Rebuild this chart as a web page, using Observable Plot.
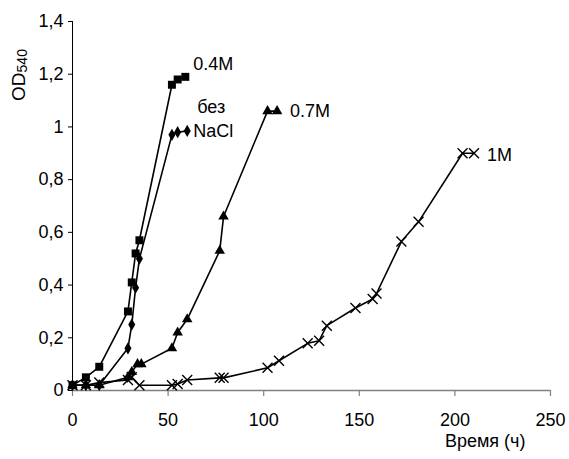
<!DOCTYPE html>
<html>
<head>
<meta charset="utf-8">
<script src="https://cdn.jsdelivr.net/npm/d3@7"></script>
<script src="https://cdn.jsdelivr.net/npm/@observablehq/plot@0.6"></script>
<style>
  body { margin: 0; background: #fff; }
  #chart svg { display: block; }
</style>
</head>
<body>
<div id="chart"></div>
<script>
// ---- data ----
const seriesNames = ["0.4M", "без NaCl", "0.7M", "1M"];

const time04 = [0, 7, 14, 29, 31, 33, 35, 52, 55, 59];
const od04   = [0.02, 0.05, 0.09, 0.30, 0.41, 0.52, 0.57, 1.16, 1.18, 1.19];

const timeNo = [0, 7, 14, 29, 31, 33, 35, 52, 55, 60];
const odNo   = [0.02, 0.02, 0.02, 0.16, 0.25, 0.39, 0.50, 0.97, 0.98, 0.985];

const time07 = [0, 7, 14, 29, 31, 34, 36, 52, 55, 60, 77, 79, 102, 107];
const od07   = [0.02, 0.02, 0.02, 0.05, 0.07, 0.10, 0.10, 0.16, 0.22, 0.27, 0.53, 0.66, 1.06, 1.06];

const time1 = [0, 7, 14, 29, 31, 35, 52, 55, 60, 77, 79, 102, 108, 123, 129, 133, 148, 157, 159, 172, 181, 204, 210];
const od1   = [0.02, 0.02, 0.03, 0.04, 0.05, 0.02, 0.02, 0.025, 0.04, 0.048, 0.048, 0.086, 0.113, 0.179, 0.189, 0.246, 0.313, 0.347, 0.368, 0.565, 0.64, 0.90, 0.90];

const xTicks = [0, 50, 100, 150, 200, 250];
const yTicks = [0, 0.2, 0.4, 0.6, 0.8, 1, 1.2, 1.4];
const yTickLabels = ["0", "0,2", "0,4", "0,6", "0,8", "1", "1,2", "1,4"];
const xTitle = "Время (ч)";
const yTitle = "OD";
const yTitleSub = "540";
const labelTop = "без";
const labelNaCl = "NaCl";

// ---- build tables ----
const rows = (name, xs, ys) => xs.map((x, i) => ({series: name, x, y: ys[i]}));
const d04 = rows(seriesNames[0], time04, od04);
const dNo = rows(seriesNames[1], timeNo, odNo);
const d07 = rows(seriesNames[2], time07, od07);
const d1  = rows(seriesNames[3], time1, od1);
const last = d => [d[d.length - 1]];

const font = "'Liberation Sans', Arial, Helvetica, sans-serif";
const lineStyle = {x: "x", y: "y", stroke: "#000", strokeWidth: 1.6};

const chart = Plot.plot({
  width: 569,
  height: 459,
  marginLeft: 72,
  marginRight: 19,
  marginTop: 21,
  marginBottom: 69,
  style: {fontFamily: font, fontSize: "18px", background: "#fff", color: "#000"},
  x: {domain: [0, 250]},
  y: {domain: [0, 1.4]},
  marks: [
    Plot.ruleY([0], {stroke: "#808080", strokeWidth: 1.5}),
    Plot.ruleX([0], {stroke: "#000", strokeWidth: 1}),
    Plot.axisX({ticks: xTicks, tickSize: 6, tickPadding: 17, stroke: "#808080", strokeWidth: 1.2, fill: "#000", fontSize: 18, label: null}),
    Plot.axisY({ticks: yTicks, tickSize: 4, tickPadding: 5, tickFormat: d => yTickLabels[yTicks.indexOf(d)], fontSize: 18, label: null}),
    Plot.line(d04, lineStyle),
    Plot.line(dNo, lineStyle),
    Plot.line(d07, lineStyle),
    Plot.line(d1, lineStyle),
    Plot.dot(d04, {x: "x", y: "y", symbol: "square", r: 4.5, fill: "#000"}),
    Plot.dot(dNo, {x: "x", y: "y", symbol: "diamond", r: 3.7, fill: "#000"}),
    Plot.dot(d07, {x: "x", y: "y", symbol: "triangle", r: 3.9, fill: "#000"}),
    Plot.dot(d1,  {x: "x", y: "y", symbol: "times", r: 4.6, stroke: "#000", strokeWidth: 1.4}),
    Plot.text(last(d04), {x: "x", y: "y", text: "series", textAnchor: "start", dx: 8, dy: -13, fontSize: 18}),
    Plot.text(last(dNo), {x: "x", y: "y", text: () => labelNaCl, textAnchor: "start", dx: 6, dy: 0, fontSize: 18}),
    Plot.text(last(dNo), {x: "x", y: "y", text: () => labelTop, textAnchor: "start", dx: 10, dy: -24, fontSize: 18}),
    Plot.text(last(d07), {x: "x", y: "y", text: "series", textAnchor: "start", dx: 13, dy: 0, fontSize: 18}),
    Plot.text(last(d1),  {x: "x", y: "y", text: "series", textAnchor: "start", dx: 13, dy: 2, fontSize: 18}),
    Plot.text([xTitle], {frameAnchor: "bottom-right", text: d => d, textAnchor: "end", dx: -25, dy: 56, fontSize: 18})
  ]
});

// y-axis title with subscript
const svg = d3.select(chart);
const t = svg.append("text")
  .attr("transform", "translate(25,75) rotate(-90)")
  .attr("text-anchor", "middle")
  .attr("font-family", font)
  .attr("font-size", 19)
  .attr("fill", "#000");
t.append("tspan").text(yTitle);
t.append("tspan").attr("font-size", 14).attr("dy", 2).text(yTitleSub);

document.getElementById("chart").appendChild(chart);
</script>
</body>
</html>
